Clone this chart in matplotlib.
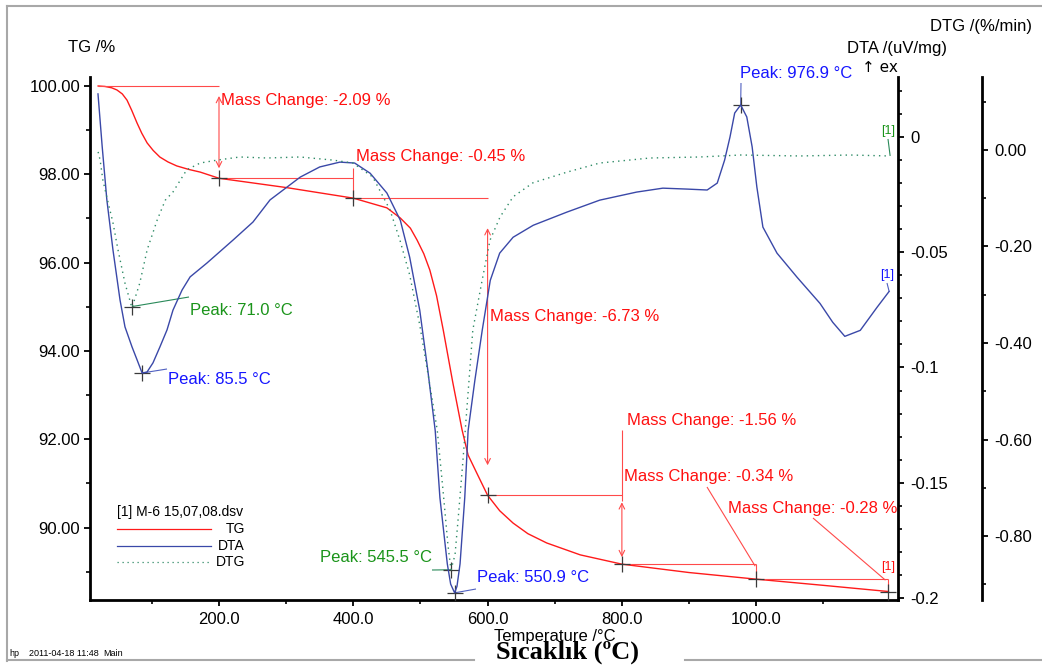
import numpy as np
import matplotlib
matplotlib.use('Agg')
import matplotlib.pyplot as plt
from matplotlib.lines import Line2D
from matplotlib.transforms import Bbox, TransformedBbox

plt.rcParams['font.family'] = ['Liberation Sans', 'DejaVu Sans']
plt.rcParams['axes.unicode_minus'] = False

# ---------------- data ----------------
tg_T = [20, 30, 40, 48, 56, 63, 70, 78, 85, 93, 102, 112, 124, 137, 155, 172, 200, 300, 400,
        450, 470, 485, 495, 505, 514, 524, 534, 548, 562, 571, 584, 600, 618, 638, 660, 688,
        738, 800, 900, 1000, 1100, 1197]
tg_val = [100.0, 99.99, 99.96, 99.91, 99.82, 99.68, 99.45, 99.16, 98.93, 98.71, 98.54, 98.39,
          98.28, 98.19, 98.11, 98.05, 97.91, 97.70, 97.46, 97.24, 97.01, 96.78, 96.51, 96.20,
          95.83, 95.25, 94.47, 93.30, 92.21, 91.64, 91.23, 90.73, 90.38, 90.10, 89.86, 89.65,
          89.38, 89.17, 88.98, 88.83, 88.69, 88.55]

dta_T = [19.8, 26, 33, 42.1, 52.6, 60, 70.5, 78, 85.5, 92.8, 101.7, 112, 122.6, 131.5, 145, 157,
         182, 221, 250.6, 276, 321, 350, 380, 402, 425, 450, 470, 484, 499, 511, 522, 529, 540,
         545, 550.9, 554.4, 559, 566, 571, 581, 592, 604, 618, 638, 668, 718, 767, 822, 861,
         897, 927, 942, 953, 961, 968, 976.9, 986, 994, 1001, 1010, 1031, 1061, 1095, 1114,
         1132, 1155, 1180, 1198]
dta_val = [0.0187, -0.0040, -0.0273, -0.0490, -0.0707, -0.0824, -0.0911, -0.0967, -0.1024,
           -0.1020, -0.0980, -0.0911, -0.0837, -0.0751, -0.0664, -0.0607, -0.0547, -0.0447,
           -0.0369, -0.0273, -0.0174, -0.0130, -0.0109, -0.0113, -0.0157, -0.0243, -0.0361,
           -0.0522, -0.0752, -0.1013, -0.1274, -0.1565, -0.1852, -0.1940, -0.1978, -0.1950,
           -0.1852, -0.1565, -0.1274, -0.1057, -0.0839, -0.0622, -0.0504, -0.0435, -0.0383,
           -0.0326, -0.0274, -0.0239, -0.0222, -0.0226, -0.0230, -0.0200, -0.0100, 0.0,
           0.0104, 0.0139, 0.0087, -0.0043, -0.0217, -0.0391, -0.0504, -0.0609, -0.0722,
           -0.0804, -0.0865, -0.0839, -0.0739, -0.0670]

dtg_T = [20, 23, 27, 34, 42, 49.6, 60, 70.4, 82, 93, 108, 120, 131.5, 152, 172, 197, 231, 271.5,
         320.6, 370, 399.5, 429, 454.6, 469.5, 484, 499, 514, 525, 533.6, 541, 545.5, 551.5, 556,
         563, 569, 578, 592, 603.6, 618.5, 638, 667.6, 718, 767, 842, 916, 977, 1065, 1140, 1198]
dtg_val = [-0.004, -0.021, -0.062, -0.104, -0.150, -0.207, -0.276, -0.327, -0.276, -0.207,
           -0.145, -0.104, -0.087, -0.041, -0.027, -0.021, -0.0145, -0.0166, -0.0145, -0.021,
           -0.027, -0.056, -0.124, -0.187, -0.259, -0.363, -0.487, -0.580, -0.705, -0.819,
           -0.870, -0.839, -0.767, -0.649, -0.539, -0.373, -0.269, -0.187, -0.139, -0.097,
           -0.068, -0.046, -0.027, -0.0166, -0.0145, -0.0104, -0.0124, -0.0104, -0.0124]

step_T = [200, 400, 600, 800, 1000, 1197]
mass_changes = [-2.09, -0.45, -6.73, -1.56, -0.34, -0.28]
tg_start = 100.0

dta_peaks_T = [85.5, 550.9, 976.9]
dtg_peaks_T = [71.0, 545.5]

x_major = [200, 400, 600, 800, 1000]
x_minor = [100, 300, 500, 700, 900, 1100]
tg_major = [90, 92, 94, 96, 98, 100]
tg_minor = [89, 91, 93, 95, 97, 99]
dta_major = [0, -0.05, -0.1, -0.15, -0.2]
dta_labels = ['0', '-0.05', '-0.1', '-0.15', '-0.2']
dtg_major = [0, -0.2, -0.4, -0.6, -0.8]
dtg_labels = ['0.00', '-0.20', '-0.40', '-0.60', '-0.80']
dtg_minor = [0.1, -0.1, -0.3, -0.5, -0.7, -0.9]

# ---------------- figure ----------------
W, H = 1042, 669
fig = plt.figure(figsize=(W / 100, H / 100), dpi=100)
fig.patch.set_facecolor('white')

def fx(px):
    return px / W

def fy(py):
    return 1 - py / H

ax = fig.add_axes([fx(90), fy(600), fx(898) - fx(90), fy(76.5) - fy(600)])
ax2 = ax.twinx()
ax3 = ax.twinx()
ax.set_xlim(7.9, 1211.2)
ax.set_ylim(88.358, 100.215)
ax2.set_ylim(-0.2009, 0.02625)
ax3.set_ylim(-0.9326, 0.1523)

RED = '#ff1a1a'
RED_L = '#ff4a4a'
BLUE = '#3a48a8'
GREEN = '#2e8b66'
TXT_BLUE = '#1515ff'
TXT_GREEN = '#1a941a'

for a in (ax, ax2, ax3):
    a.patch.set_visible(False)
    for s in a.spines.values():
        s.set_visible(False)
ax.spines['left'].set_visible(True)
ax.spines['bottom'].set_visible(True)
ax2.spines['right'].set_visible(True)
ax3.spines['right'].set_visible(True)
ax3.spines['right'].set_position(('axes', (982 - 90) / (898 - 90)))
for s in (ax.spines['left'], ax.spines['bottom'], ax2.spines['right'], ax3.spines['right']):
    s.set_linewidth(2.0)
    s.set_color('black')

ax.set_xticks(x_major, [f'{v:.1f}' for v in x_major])
ax.set_xticks(x_minor, minor=True)
ax.set_yticks(tg_major, [f'{v:.2f}' for v in tg_major])
ax.set_yticks(tg_minor, minor=True)
ax2.set_yticks(dta_major, dta_labels)
ax2.set_yticks(np.round(np.arange(0.02, -0.2, -0.01), 3), minor=True)
ax3.set_yticks(dtg_major, dtg_labels)
ax3.set_yticks(dtg_minor, minor=True)

ax.tick_params(axis='both', which='major', direction='out', length=4, width=1.3,
               labelsize=12, pad=3)
ax.tick_params(axis='both', which='minor', direction='out', length=3, width=1.2)
ax.tick_params(axis='x', which='major', pad=5)
ax.tick_params(axis='x', which='both', top=False)
ax.tick_params(axis='y', which='both', right=False)
for a in (ax2, ax3):
    a.tick_params(axis='y', which='major', direction='out', length=4, width=1.3,
                  labelsize=12, pad=5)
    a.tick_params(axis='y', which='minor', direction='out', length=3, width=1.2)
    a.tick_params(axis='x', which='both', bottom=False, top=False, labelbottom=False)

# curves
ax.plot(tg_T, tg_val, color=RED, lw=1.0, zorder=3)
ax2.plot(dta_T, dta_val, color=BLUE, lw=1.0, zorder=3)
ax3.plot(dtg_T, dtg_val, color=GREEN, lw=1.0, ls=(0, (1, 3)), zorder=3)

# ---------------- helpers ----------------
def pix2tg(px, py):
    return ax.transData.inverted().transform((px, H - py))

def off(axis, T, v, dx=0, dy=0):
    p = axis.transData.transform((T, v))
    return ax.transData.inverted().transform((p[0] + dx, p[1] - dy))

def seg(p0, p1, color=RED_L, lw=0.8, z=4):
    ax.plot([p0[0], p1[0]], [p0[1], p1[1]], color=color, lw=lw, zorder=z,
            solid_capstyle='butt')

def darrow(p0, p1, color=RED_L):
    ax.annotate('', xy=p1, xytext=p0, xycoords='data', textcoords='data',
                arrowprops=dict(arrowstyle='<->', color=color, lw=0.8,
                                mutation_scale=10, shrinkA=0, shrinkB=0), zorder=4)

def cross(p):
    ax.plot([p[0]], [p[1]], marker='+', ms=11, mew=0.9, color='#3a3a3a', zorder=6)

def ftxt(px, py, s, color, size=12, ha='left', va='center', **kw):
    return fig.text(fx(px), fy(py), s, color=color, fontsize=size, ha=ha, va=va, **kw)

# ---------------- mass change annotations ----------------
levels = list(np.round(tg_start + np.cumsum(mass_changes), 2))
prev = [tg_start] + levels[:-1]
mc_text_pos = [(221, 101), (356, 157), (490, 316), (627, 420), (624, 477), (728, 508)]

# step 1
seg((tg_T[0], tg_start), (step_T[0], tg_start))
darrow(off(ax, step_T[0], prev[0], dy=10), off(ax, step_T[0], levels[0], dy=-10))
# step 2
seg(off(ax, step_T[1], prev[1], dy=-10), off(ax, step_T[1], levels[1], dy=4))
# step 3
darrow(off(ax, step_T[2], prev[2], dy=30), off(ax, step_T[2], levels[2], dy=-30))
# step 4
seg(off(ax, step_T[3], prev[3], dy=-65), off(ax, step_T[3], prev[3], dy=6))
darrow(off(ax, step_T[3], prev[3], dy=7), off(ax, step_T[3], levels[3], dy=-7))
# step 5
seg(off(ax, step_T[4], prev[4]), off(ax, step_T[4], levels[4]))
seg(pix2tg(707, 487), off(ax, step_T[4], prev[4], dx=-1, dy=2))
# step 6
seg(off(ax, step_T[5], prev[5]), off(ax, step_T[5], levels[5]))
seg(pix2tg(813, 518), off(ax, step_T[5], prev[5], dx=-3, dy=1))

for i in range(len(step_T)):
    if i + 1 < len(step_T):
        seg((step_T[i], levels[i]), (step_T[i + 1], levels[i]))
    cross((step_T[i], levels[i]))
    px, py = mc_text_pos[i]
    ftxt(px, py, f'Mass Change: {mass_changes[i]:.2f} %', '#ff1010')

ftxt(888, 573, '[1]', '#ff1010', size=9, ha='center', va='bottom')

# ---------------- peaks ----------------
dta_text_pos = [(168, 380), (477, 578), (740, 74)]
dta_lead_end = [(167, 369), (476, 589), (741, 83)]
for T, (tx, ty), (lx, ly) in zip(dta_peaks_T, dta_text_pos, dta_lead_end):
    v = np.interp(T, dta_T, dta_val)
    p = off(ax2, T, v)
    seg(p, pix2tg(lx, ly), color='#5060c0', lw=0.8)
    cross(p)
    ftxt(tx, ty, f'Peak: {T:.1f} °C', TXT_BLUE)

dtg_text_pos = [(190, 310), (320, 558)]
dtg_lead_end = [(189, 297), (432, 570)]
for T, (tx, ty), (lx, ly) in zip(dtg_peaks_T, dtg_text_pos, dtg_lead_end):
    v = np.interp(T, dtg_T, dtg_val)
    p = off(ax3, T, v)
    seg(p, pix2tg(lx, ly), color='#2a8a5a', lw=0.8)
    cross(p)
    ftxt(tx, ty, f'Peak: {T:.1f} °C', TXT_GREEN)

# curve end labels
seg(pix2tg(888, 139), off(ax3, dtg_T[-1], dtg_val[-1], dx=1), color='#2a8a5a', lw=0.8)
ftxt(888, 131, '[1]', TXT_GREEN, size=9, ha='center')
seg(pix2tg(887, 283), off(ax2, dta_T[-1], dta_val[-1]), color='#5060c0', lw=0.8)
ftxt(887, 275, '[1]', TXT_BLUE, size=9, ha='center')

# ---------------- axis titles ----------------
ftxt(92, 47, 'TG /%', 'black', ha='center')
ftxt(981, 27, 'DTG /(%/min)', 'black', ha='center')
ftxt(897, 48, 'DTA /(uV/mg)', 'black', ha='center')
t = ftxt(862, 68, '↑ exo', 'black', family=['DejaVu Sans'], size=11)
t.set_clip_on(True)
t.set_clip_box(TransformedBbox(Bbox([[0, 0], [fx(898), 1]]), fig.transFigure))
ftxt(555, 636, 'Temperature /°C', 'black', ha='center')
ftxt(567, 652, 'Sıcaklık (ºC)', 'black', size=19, ha='center',
     family=['Liberation Serif', 'DejaVu Serif'], fontweight='bold')

# ---------------- legend ----------------
ftxt(117, 512, '[1] M-6 15,07,08.dsv', 'black', size=10)
leg_items = [('TG', RED, '-'), ('DTA', BLUE, '-'), ('DTG', GREEN, (0, (1, 3)))]
for k, (name, col, ls) in enumerate(leg_items):
    yy = 529 + k * 16.5
    fig.add_artist(Line2D([fx(117), fx(211)], [fy(yy), fy(yy)], color=col, lw=0.9, ls=ls,
                          transform=fig.transFigure))
    ftxt(245, yy, name, 'black', size=10, ha='right')

# ---------------- footer / frame ----------------
ftxt(9, 653, 'hp', 'black', size=6.5)
ftxt(29, 653, '2011-04-18 11:48', 'black', size=6.5)
ftxt(103, 653, 'Main', 'black', size=6.5)

frame_col = '#a8a8a8'
for xs, ys in [([7, 1042], [5.5, 5.5]), ([7, 7], [5.5, 661]),
               ([7, 474], [660, 660]), ([685, 1042], [660, 660])]:
    fig.add_artist(Line2D([fx(v) for v in xs], [fy(v) for v in ys], color=frame_col, lw=1.5,
                          transform=fig.transFigure))

fig.savefig('out.png', dpi=100)
